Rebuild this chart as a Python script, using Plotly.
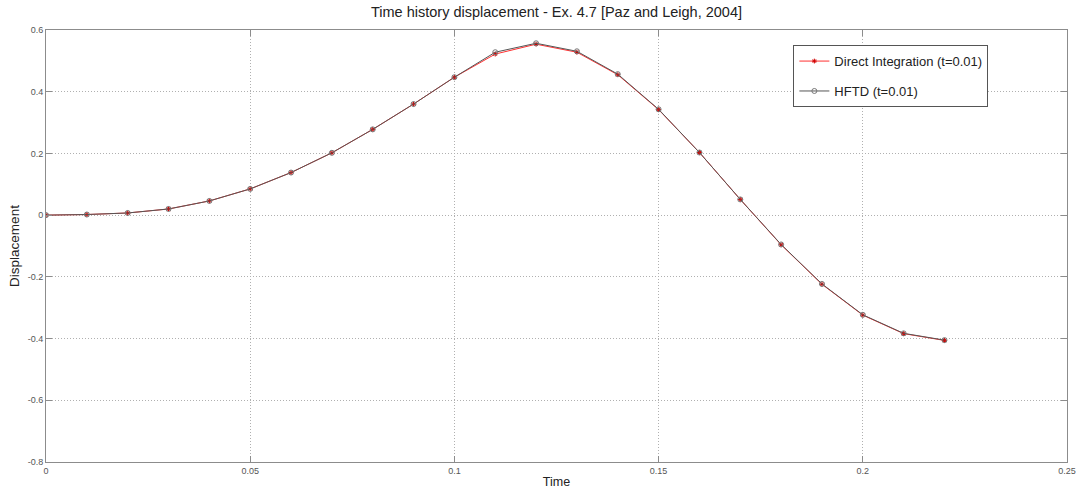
import plotly.graph_objects as go

time = [0.0, 0.01, 0.02, 0.03, 0.04, 0.05, 0.06, 0.07, 0.08, 0.09, 0.10,
        0.11, 0.12, 0.13, 0.14, 0.15, 0.16, 0.17, 0.18, 0.19, 0.20, 0.21, 0.22]
direct = [0.0, 0.002, 0.007, 0.020, 0.046, 0.085, 0.138, 0.202, 0.278, 0.360, 0.447,
          0.522, 0.554, 0.528, 0.455, 0.342, 0.203, 0.051, -0.096, -0.224, -0.324, -0.384, -0.406]
hftd = [0.0, 0.002, 0.007, 0.020, 0.046, 0.085, 0.138, 0.202, 0.278, 0.360, 0.447,
        0.528, 0.557, 0.531, 0.457, 0.343, 0.203, 0.051, -0.095, -0.223, -0.323, -0.383, -0.405]

FONT = "Liberation Sans, Arial, sans-serif"

fig = go.Figure()
fig.add_trace(go.Scatter(
    x=time, y=direct, mode="lines+markers", name="Direct Integration (t=0.01)",
    legendgroup="a",
    line=dict(color="#ff3030", width=1),
    marker=dict(symbol="asterisk", size=4, color="#e00000", line=dict(color="#d00000", width=1)),
))
fig.add_trace(go.Scatter(
    x=time, y=hftd, mode="lines+markers", name="HFTD (t=0.01)",
    legendgroup="b",
    line=dict(color="#555555", width=1),
    marker=dict(symbol="circle-open", size=5, color="#777777", line=dict(color="#777777", width=1)),
))

axis_common = dict(
    showline=True, linecolor="#8c8c8c", linewidth=1, mirror="ticks",
    ticks="inside", ticklen=6, tickcolor="#8c8c8c",
    showgrid=True, gridcolor="#b0b0b0", griddash="1px,2px", gridwidth=1,
    zeroline=False, automargin=False,
    tickfont=dict(family=FONT, size=9, color="#555555"),
)

fig.update_layout(
    width=1080, height=492,
    paper_bgcolor="white", plot_bgcolor="white",
    margin=dict(l=46, r=13, t=30, b=30),
    title=dict(text="Time history displacement - Ex. 4.7 [Paz and Leigh, 2004]",
               xref="paper", x=0.5, xanchor="center", y=0.975, yanchor="middle",
               font=dict(family=FONT, size=14.5, color="#222222")),
    xaxis=dict(range=[0, 0.25], tickvals=[0, 0.05, 0.1, 0.15, 0.2, 0.25],
               ticktext=["0", "0.05", "0.1", "0.15", "0.2", "0.25"],
               title=dict(text="Time", standoff=2,
                          font=dict(family=FONT, size=12.5, color="#222222")),
               **axis_common),
    yaxis=dict(range=[-0.8, 0.6], tickvals=[-0.8, -0.6, -0.4, -0.2, 0, 0.2, 0.4, 0.6],
               ticktext=["-0.8", "-0.6", "-0.4", "-0.2", "0", "0.2", "0.4", "0.6"],
               title=dict(text="Displacement", standoff=4,
                          font=dict(family=FONT, size=13.5, color="#222222")),
               **axis_common),
    legend=dict(x=0.732, y=0.965, xanchor="left", yanchor="top",
                bgcolor="white", bordercolor="#555555", borderwidth=1,
                font=dict(family=FONT, size=13, color="#222222"),
                tracegroupgap=10, itemwidth=30),
    showlegend=True,
)

fig.write_html("out.html")
